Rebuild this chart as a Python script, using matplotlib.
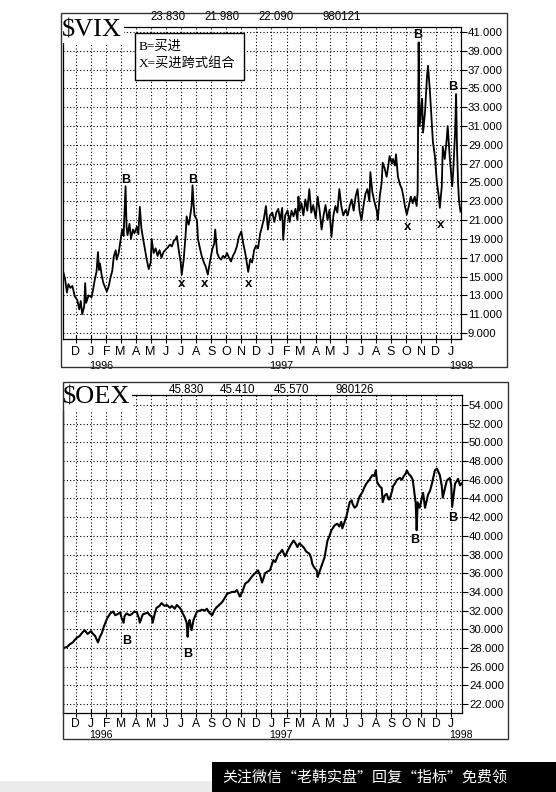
import matplotlib
matplotlib.use('Agg')
import matplotlib.pyplot as plt
import matplotlib.dates as mdates
import matplotlib.patches as mpatches
import matplotlib.transforms as mtransforms
from matplotlib.ticker import FixedLocator, FuncFormatter
import numpy as np
import pandas as pd

plt.rcParams['font.family'] = ['Liberation Sans', 'Noto Sans CJK SC', 'DejaVu Sans']

# ---------------- data ----------------
vix_dates = [
    '1995-11-06', '1995-11-09', '1995-11-13', '1995-11-16', '1995-11-20', '1995-11-24', '1995-11-29',
    '1995-12-04', '1995-12-08', '1995-12-11', '1995-12-14', '1995-12-18', '1995-12-20', '1995-12-22',
    '1995-12-27', '1996-01-02', '1996-01-05', '1996-01-09', '1996-01-12', '1996-01-15', '1996-01-17',
    '1996-01-19', '1996-01-23', '1996-01-26', '1996-01-30', '1996-02-02', '1996-02-06', '1996-02-09',
    '1996-02-13', '1996-02-16', '1996-02-20', '1996-02-22', '1996-02-26', '1996-02-29', '1996-03-04',
    '1996-03-07', '1996-03-11', '1996-03-13', '1996-03-15', '1996-03-19', '1996-03-22', '1996-03-26',
    '1996-03-29', '1996-04-03', '1996-04-06', '1996-04-09', '1996-04-12', '1996-04-15', '1996-04-19',
    '1996-04-23', '1996-04-27', '1996-05-01', '1996-05-03', '1996-05-07', '1996-05-11', '1996-05-15',
    '1996-05-19', '1996-05-23', '1996-05-27', '1996-06-01', '1996-06-05', '1996-06-09', '1996-06-13',
    '1996-06-17', '1996-06-21', '1996-06-23', '1996-06-27', '1996-07-01', '1996-07-03', '1996-07-07',
    '1996-07-11', '1996-07-13', '1996-07-17', '1996-07-19', '1996-07-23', '1996-07-25', '1996-07-27',
    '1996-07-29', '1996-08-03', '1996-08-05', '1996-08-09', '1996-08-13', '1996-08-17', '1996-08-21',
    '1996-08-25', '1996-08-29', '1996-09-03', '1996-09-07', '1996-09-09', '1996-09-13', '1996-09-17',
    '1996-09-21', '1996-09-25', '1996-09-29', '1996-10-03', '1996-10-07', '1996-10-11', '1996-10-15',
    '1996-10-19', '1996-10-23', '1996-10-27', '1996-11-01', '1996-11-05', '1996-11-09', '1996-11-13',
    '1996-11-15', '1996-11-19', '1996-11-23', '1996-11-27', '1996-12-01', '1996-12-05', '1996-12-09',
    '1996-12-13', '1996-12-17', '1996-12-21', '1996-12-25', '1996-12-29', '1997-01-03', '1997-01-07',
    '1997-01-11', '1997-01-15', '1997-01-19', '1997-01-23', '1997-01-25', '1997-01-29', '1997-02-03',
    '1997-02-07', '1997-02-11', '1997-02-15', '1997-02-19', '1997-02-23', '1997-02-25', '1997-02-27',
    '1997-03-03', '1997-03-07', '1997-03-11', '1997-03-15', '1997-03-19', '1997-03-23', '1997-03-27',
    '1997-04-01', '1997-04-05', '1997-04-09', '1997-04-13', '1997-04-17', '1997-04-21', '1997-04-25',
    '1997-04-29', '1997-05-03', '1997-05-07', '1997-05-11', '1997-05-15', '1997-05-19', '1997-05-23',
    '1997-05-27', '1997-06-01', '1997-06-05', '1997-06-09', '1997-06-13', '1997-06-17', '1997-06-21',
    '1997-06-25', '1997-06-29', '1997-07-03', '1997-07-07', '1997-07-11', '1997-07-15', '1997-07-19',
    '1997-07-21', '1997-07-25', '1997-07-29', '1997-08-03', '1997-08-05', '1997-08-09', '1997-08-13',
    '1997-08-15', '1997-08-19', '1997-08-23', '1997-08-27', '1997-08-29', '1997-09-03', '1997-09-05',
    '1997-09-09', '1997-09-11', '1997-09-15', '1997-09-19', '1997-09-23', '1997-09-27', '1997-09-29',
    '1997-10-03', '1997-10-07', '1997-10-11', '1997-10-15', '1997-10-19', '1997-10-23', '1997-10-25',
    '1997-10-27', '1997-10-29', '1997-11-03', '1997-11-05', '1997-11-09', '1997-11-13', '1997-11-15',
    '1997-11-19', '1997-11-23', '1997-11-25', '1997-11-29', '1997-12-03', '1997-12-07', '1997-12-09',
    '1997-12-13', '1997-12-15', '1997-12-19', '1997-12-23', '1997-12-25', '1997-12-29', '1998-01-03',
    '1998-01-05', '1998-01-09', '1998-01-11', '1998-01-13', '1998-01-15', '1998-01-17', '1998-01-20',
]
vix_values = [
    15.4, 14.8, 13.3, 14.2, 13.8, 14.0, 12.9,
    12.5, 11.5, 12.4, 11.0, 11.8, 14.3, 12.2,
    13.0, 12.8, 13.6, 14.8, 15.5, 17.6, 15.7,
    16.4, 15.0, 14.3, 13.8, 13.4, 14.0, 14.8,
    15.6, 17.1, 17.8, 16.8, 17.5, 18.6, 20.0,
    19.3, 24.6, 20.3, 19.4, 20.6, 19.0, 20.0,
    19.6, 20.3, 19.5, 22.4, 20.2, 19.2, 18.0,
    16.8, 15.8, 16.5, 19.0, 17.5, 18.0, 17.2,
    17.8, 17.0, 17.6, 17.9, 18.1, 18.4, 18.2,
    18.8, 19.0, 19.3, 17.8, 16.5, 15.2, 16.8,
    19.5, 21.4, 20.5, 21.0, 22.5, 24.7, 22.8,
    21.5, 21.0, 19.0, 18.0, 17.1, 16.5, 16.0,
    15.2, 16.5, 17.9, 18.5, 20.0, 17.5, 17.0,
    16.8, 17.2, 17.0, 17.5, 17.0, 16.6, 17.2,
    17.6, 18.2, 19.2, 19.8, 18.5, 17.5, 16.2,
    15.5, 16.8, 16.5, 17.8, 18.3, 18.0, 19.5,
    20.3, 21.2, 22.5, 20.0, 21.5, 21.8, 20.8,
    21.8, 22.2, 21.0, 22.3, 18.9, 21.5, 22.0,
    20.8, 22.0, 21.4, 22.2, 21.0, 23.5, 22.0,
    22.8, 21.5, 23.2, 22.0, 24.3, 21.8, 22.6,
    21.2, 23.5, 22.0, 20.0, 21.5, 22.6, 21.0,
    22.1, 19.2, 21.5, 22.5, 21.8, 24.3, 22.5,
    21.5, 22.1, 21.5, 22.5, 23.2, 22.0, 23.5,
    24.3, 22.0, 21.0, 22.5, 23.8, 24.3, 23.0,
    26.1, 24.0, 23.0, 22.0, 21.0, 23.5, 25.0,
    27.1, 26.5, 25.6, 27.0, 27.8, 27.0, 27.5,
    26.8, 28.0, 25.6, 24.8, 24.3, 23.2, 22.5,
    21.6, 22.5, 23.5, 22.8, 23.5, 22.5, 24.0,
    39.9, 31.0, 33.9, 30.3, 32.5, 36.3, 37.4,
    34.6, 31.0, 29.3, 27.8, 25.0, 23.5, 22.3,
    24.6, 28.8, 27.5, 29.6, 31.0, 27.8, 24.6,
    26.0, 30.3, 34.4, 28.5, 25.0, 23.0, 21.9,
]

oex_dates = [
    '1995-11-06', '1995-11-13', '1995-11-19', '1995-11-25', '1995-12-01', '1995-12-09', '1995-12-15',
    '1995-12-19', '1995-12-25', '1996-01-01', '1996-01-05', '1996-01-09', '1996-01-15', '1996-01-19',
    '1996-01-23', '1996-01-27', '1996-02-03', '1996-02-09', '1996-02-15', '1996-02-19', '1996-02-23',
    '1996-02-29', '1996-03-03', '1996-03-07', '1996-03-09', '1996-03-13', '1996-03-19', '1996-03-23',
    '1996-03-29', '1996-04-03', '1996-04-07', '1996-04-09', '1996-04-13', '1996-04-15', '1996-04-21',
    '1996-04-25', '1996-04-29', '1996-05-03', '1996-05-05', '1996-05-09', '1996-05-13', '1996-05-19',
    '1996-05-23', '1996-05-29', '1996-06-03', '1996-06-09', '1996-06-13', '1996-06-19', '1996-06-23',
    '1996-06-29', '1996-07-03', '1996-07-05', '1996-07-09', '1996-07-13', '1996-07-15', '1996-07-17',
    '1996-07-19', '1996-07-23', '1996-07-27', '1996-08-03', '1996-08-09', '1996-08-13', '1996-08-19',
    '1996-08-23', '1996-08-29', '1996-09-03', '1996-09-07', '1996-09-11', '1996-09-17', '1996-09-23',
    '1996-09-29', '1996-10-03', '1996-10-09', '1996-10-13', '1996-10-19', '1996-10-23', '1996-10-29',
    '1996-11-03', '1996-11-09', '1996-11-15', '1996-11-19', '1996-11-25', '1996-11-29', '1996-12-05',
    '1996-12-09', '1996-12-13', '1996-12-17', '1996-12-19', '1996-12-25', '1996-12-29', '1997-01-05',
    '1997-01-09', '1997-01-15', '1997-01-19', '1997-01-23', '1997-01-27', '1997-01-29', '1997-02-03',
    '1997-02-09', '1997-02-15', '1997-02-19', '1997-02-23', '1997-02-27', '1997-03-03', '1997-03-07',
    '1997-03-13', '1997-03-19', '1997-03-23', '1997-03-25', '1997-03-29', '1997-04-03', '1997-04-05',
    '1997-04-09', '1997-04-13', '1997-04-19', '1997-04-25', '1997-04-29', '1997-05-03', '1997-05-09',
    '1997-05-15', '1997-05-19', '1997-05-23', '1997-05-25', '1997-05-29', '1997-06-03', '1997-06-09',
    '1997-06-13', '1997-06-15', '1997-06-19', '1997-06-23', '1997-06-29', '1997-07-05', '1997-07-09',
    '1997-07-13', '1997-07-19', '1997-07-25', '1997-07-29', '1997-08-01', '1997-08-03', '1997-08-05',
    '1997-08-09', '1997-08-13', '1997-08-15', '1997-08-19', '1997-08-23', '1997-08-27', '1997-08-29',
    '1997-09-03', '1997-09-05', '1997-09-09', '1997-09-13', '1997-09-19', '1997-09-23', '1997-09-27',
    '1997-10-01', '1997-10-03', '1997-10-07', '1997-10-11', '1997-10-15', '1997-10-19', '1997-10-21',
    '1997-10-23', '1997-10-25', '1997-10-29', '1997-11-05', '1997-11-09', '1997-11-15', '1997-11-19',
    '1997-11-23', '1997-11-29', '1997-12-03', '1997-12-09', '1997-12-13', '1997-12-15', '1997-12-19',
    '1997-12-23', '1997-12-29', '1998-01-01', '1998-01-03', '1998-01-07', '1998-01-09', '1998-01-13',
    '1998-01-15', '1998-01-19', '1998-01-22',
]
oex_values = [
    28.0, 28.1, 28.4, 28.6, 29.0, 29.3, 29.7,
    29.9, 29.5, 29.8, 29.5, 29.3, 28.6, 29.2,
    29.6, 30.3, 31.2, 31.7, 31.9, 31.5, 31.6,
    31.8, 31.2, 30.7, 31.4, 31.7, 31.5, 31.6,
    31.9, 31.8, 31.2, 30.7, 31.3, 31.6, 31.7,
    31.8, 31.5, 31.4, 30.7, 31.6, 32.3, 32.5,
    32.8, 32.5, 32.6, 32.3, 32.5, 32.2, 32.6,
    32.3, 32.0, 31.7, 31.3, 30.7, 29.2, 30.5,
    31.0, 29.9, 31.0, 31.9, 32.0, 32.1, 32.0,
    32.2, 31.7, 31.5, 32.0, 32.3, 32.6, 32.9,
    33.4, 33.8, 33.9, 34.0, 34.0, 34.2, 33.5,
    34.0, 34.9, 35.1, 35.4, 35.8, 36.0, 36.3,
    35.8, 35.0, 35.6, 36.0, 36.2, 36.3, 37.4,
    37.2, 38.0, 38.2, 38.5, 38.0, 37.8, 38.4,
    39.0, 39.5, 39.2, 38.8, 39.2, 39.0, 38.8,
    38.3, 38.1, 37.6, 37.0, 36.6, 36.3, 35.6,
    36.2, 36.8, 37.7, 39.5, 40.0, 40.6, 41.1,
    41.3, 41.0, 41.5, 40.8, 41.4, 42.2, 43.6,
    43.8, 43.4, 43.0, 43.2, 44.2, 44.7, 45.2,
    45.6, 46.0, 46.5, 46.4, 47.0, 46.0, 45.6,
    45.3, 45.1, 43.6, 44.3, 44.5, 43.9, 43.9,
    44.8, 45.3, 45.6, 46.0, 46.2, 46.0, 46.4,
    46.7, 47.0, 46.6, 46.4, 46.0, 44.3, 43.5,
    40.6, 43.6, 43.0, 44.6, 43.0, 44.4, 44.8,
    45.6, 47.0, 47.2, 46.5, 45.3, 44.1, 45.0,
    45.9, 46.2, 45.5, 43.1, 44.8, 45.6, 45.9,
    46.1, 45.4, 45.6,
]

vix_header = ['23.830', '21.980', '22.090', '980121']
oex_header = ['45.830', '45.410', '45.570', '980126']

vix_mark_dates = ['1996-03-11', '1996-07-25', '1997-10-25', '1998-01-05',
                  '1996-07-03', '1996-08-19', '1996-11-15', '1997-10-05', '1997-12-11']
vix_mark_values = [25.3, 25.3, 40.7, 35.1, 14.2, 14.2, 14.2, 20.3, 20.5]
vix_mark_labels = ['B', 'B', 'B', 'B', 'x', 'x', 'x', 'x', 'x']

oex_mark_dates = ['1996-03-13', '1996-07-15', '1997-10-19', '1998-01-05']
oex_mark_values = [28.7, 27.4, 39.5, 41.9]
oex_mark_labels = ['B', 'B', 'B', 'B']

vix_yticks = list(range(9, 42, 2))
oex_yticks = list(range(22, 55, 2))
year_labels = ['1996', '1997', '1998']
legend_lines = ['B=买进', 'X=买进跨式组合']
banner_text = '关注微信“老韩实盘”回复“指标”免费领'

# ---------------- figure ----------------
W, H = 556, 792
fig = plt.figure(figsize=(W / 100, H / 100), dpi=100)
fig.patch.set_facecolor('white')


def fx(x):
    return x / W


def fy(y):
    return 1 - y / H


ax1 = fig.add_axes([fx(63), fy(339), (461 - 63) / W, (339 - 27) / H])
ax2 = fig.add_axes([fx(63), fy(713), (462 - 63) / W, (713 - 395) / H])

grid_style = dict(color='black', linestyle=(0, (1, 2)), linewidth=0.8)


def style_axis(ax, yticks, ylim, xlim, month_pad, month_size, year_y, year_size):
    ax.set_xlim(pd.Timestamp(xlim[0]), pd.Timestamp(xlim[1]))
    ax.set_ylim(*ylim)
    ax.yaxis.tick_right()
    ax.yaxis.set_major_locator(FixedLocator(yticks))
    ax.yaxis.set_major_formatter(FuncFormatter(lambda v, p: f'{v:.3f}'))
    ax.xaxis.set_major_locator(mdates.MonthLocator())
    ax.xaxis.set_major_formatter(FuncFormatter(lambda v, p: mdates.num2date(v).strftime('%b')[0]))
    ax.tick_params(axis='y', direction='out', length=4, width=0.8, pad=1,
                   labelsize=8.2, colors='black')
    ax.tick_params(axis='x', direction='inout', length=6, width=0.8, pad=month_pad,
                   labelsize=month_size)
    ax.grid(True, **grid_style)
    ax.set_axisbelow(True)
    for s in ax.spines.values():
        s.set_linewidth(0.9)
        s.set_color('black')
    trans = mtransforms.blended_transform_factory(ax.transData, ax.transAxes)
    for yr in year_labels:
        ax.text(pd.Timestamp(f'{yr}-01-01') - pd.Timedelta(days=4), year_y, yr,
                transform=trans, ha='left', va='center', fontsize=year_size, clip_on=False)


style_axis(ax1, vix_yticks, (8.36, 41.53), ('1995-11-05', '1998-01-21'), 2.0, 9.0, -0.085, 7.8)
style_axis(ax2, oex_yticks, (21.04, 55.07), ('1995-11-05', '1998-01-23'), 0.3, 8.7, -0.068, 7.6)

ax1.plot(pd.to_datetime(vix_dates), vix_values, color='black', linewidth=1.3, zorder=3)
ax2.plot(pd.to_datetime(oex_dates), oex_values, color='black', linewidth=1.5, zorder=3)

for d, v, lab in zip(vix_mark_dates, vix_mark_values, vix_mark_labels):
    ax1.text(pd.Timestamp(d), v, lab, ha='center', va='center', fontweight='bold',
             fontsize=9 if lab == 'B' else 9.5, zorder=4)
for d, v, lab in zip(oex_mark_dates, oex_mark_values, oex_mark_labels):
    ax2.text(pd.Timestamp(d), v, lab, ha='center', va='center', fontweight='bold',
             fontsize=9, zorder=4)

# titles (cover the top spine on the left)
title_kw = dict(family='Liberation Serif', fontsize=19, ha='left', va='center', zorder=6,
                bbox=dict(facecolor='white', edgecolor='none', pad=1.5))
fig.text(fx(62), fy(30), '$VIX', **title_kw)
fig.text(fx(63), fy(398), '$OEX', **title_kw)

# header numbers
for xc, t in zip([168, 222, 276, 342], vix_header):
    fig.text(fx(xc), fy(17), t, ha='center', va='center', fontsize=8.3)
for xc, t in zip([186, 238, 292, 355], oex_header):
    fig.text(fx(xc), fy(390), t, ha='center', va='center', fontsize=8.3)

# outer frames
fig.add_artist(mpatches.Rectangle((fx(61), fy(367)), (507 - 61) / W, (367 - 13) / H,
                                  transform=fig.transFigure, fill=False,
                                  edgecolor='#333333', linewidth=1.0, zorder=7))
fig.add_artist(mpatches.Rectangle((fx(63), fy(739)), (508 - 63) / W, (739 - 382) / H,
                                  transform=fig.transFigure, fill=False,
                                  edgecolor='#333333', linewidth=1.0, zorder=7))

# legend box
fig.add_artist(mpatches.Rectangle((fx(135), fy(80)), (244 - 135) / W, (80 - 33) / H,
                                  transform=fig.transFigure, facecolor='white',
                                  edgecolor='black', linewidth=1.0, zorder=6))
leg_font = ['Liberation Serif', 'Noto Sans CJK SC']
fig.text(fx(139), fy(47), legend_lines[0], family=leg_font, fontsize=9.5,
         ha='left', va='center', zorder=8)
fig.text(fx(139), fy(63), legend_lines[1], family=leg_font, fontsize=9.5,
         ha='left', va='center', zorder=8)

# bottom banner / toolbar strip
fig.add_artist(mpatches.Rectangle((0, 0), fx(212), 11 / H, transform=fig.transFigure,
                                  facecolor='#ececec', edgecolor='none', zorder=1))
fig.add_artist(mpatches.Rectangle((fx(212), 0), (W - 212) / W, 30 / H,
                                  transform=fig.transFigure, facecolor='black',
                                  edgecolor='none', zorder=9))
fig.text(fx(222), fy(777), banner_text, family=['Noto Sans CJK SC', 'DejaVu Sans'],
         fontsize=10.8, color='white', ha='left', va='center', zorder=10)

fig.savefig('out.png', dpi=100)
